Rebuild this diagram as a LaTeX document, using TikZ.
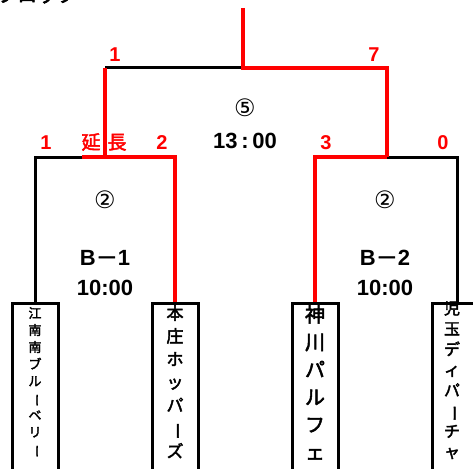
\documentclass[tikz,border=0pt]{standalone}
\usepackage{fontspec}
\setmainfont{Liberation Sans}
\newfontfamily\jp{Noto Sans CJK JP}[AutoFakeBold=2.5]
\newfontfamily\sym{DejaVu Sans}
\begin{document}
\begin{tikzpicture}[x=1pt,y=-1pt,
  bk/.style={line width=3pt,black},
  rd/.style={line width=4.5pt,red},
  score/.style={text=red,font=\fontsize{20}{20}\selectfont\bfseries,inner sep=0pt},
  lbl/.style={font=\fontsize{22}{22}\selectfont\bfseries,inner sep=0pt},
  teambox/.style={draw,line width=3pt,minimum width=46pt,minimum height=200pt,anchor=north,inner sep=0pt},
  vt/.style={anchor=north,inner sep=0pt,align=center}]
\useasboundingbox (0,0) rectangle (473,468);
% title cropped at top
\node[anchor=base west,inner sep=0pt,font=\jp\bfseries\fontsize{20}{20}\selectfont] (title) at (-3,2) {ブロック};
% team boxes
\node[teambox] (t1) at (35,302) {};
\node[teambox] (t2) at (175,302) {};
\node[teambox] (t3) at (315,302) {};
\node[teambox] (t4) at (455,302) {};
% junction coordinates
\coordinate (top) at (243,8);
\coordinate (fm) at (243,68);
\coordinate (fl) at (105,68);
\coordinate (fr) at (387,68);
\coordinate (l1) at (35,157);
\coordinate (lred) at (82,157);
\coordinate (l2) at (175,157);
\coordinate (lm) at (105,157);
\coordinate (r1) at (315,157);
\coordinate (rm) at (387,157);
\coordinate (r2) at (457,157);
% black lines
\draw[bk] (fl) -- (fm);
\draw[bk] (t1.north) |- (lred);
\draw[bk] (rm) -| (t4.north -| r2);
% red lines
\draw[rd] (top) -- (fm) -- (fr) -- (rm);
\draw[rd] (fl) -- (lm);
\draw[rd] (lred) -| (t2.north);
\draw[rd] (rm) -| (t3.north);
% scores
\node[score] (s1) at (115,55) {1};
\node[score] (s7) at (374,55) {7};
\node[score] (s1b) at (46,143) {1};
\node[score,font=\jp\bfseries\fontsize{19}{19}\selectfont] (ext) at (104,142) {延\hspace{7pt}長};
\node[score] (s2) at (162,143) {2};
\node[score] (s3) at (326,143) {3};
\node[score] (s0) at (443,143) {0};
% match labels
\node[lbl,font=\sym\fontsize{24}{24}\selectfont] (m5) at (245,108) {⑤};
\node[lbl] (t5) at (245,141) {13\,:\,00};
\node[lbl,font=\sym\fontsize{24}{24}\selectfont] (m2a) at (105,200) {②};
\node[lbl,font=\sym\fontsize{24}{24}\selectfont] (m2b) at (385,200) {②};
\node[lbl] (b1) at (105,258) {B{\jp－}1};
\node[lbl] (b1t) at (105,288) {10:00};
\node[lbl] (b2) at (385,258) {B{\jp－}2};
\node[lbl] (b2t) at (385,288) {10:00};
% team names (vertical)
\newcommand\vbar[1]{\rotatebox[origin=c]{-90}{#1}}
\node[vt,font=\jp\bfseries\fontsize{13}{17}\selectfont] (n1) at (35,307) {江\\南\\南\\ブ\\ル\\\vbar{ー}\\ベ\\リ\\\vbar{ー}};
\node[vt,font=\jp\bfseries\fontsize{17}{23}\selectfont] (n2) at (175,305) {本\\庄\\ホ\\ッ\\パ\\\vbar{ー}\\ズ};
\node[vt,font=\jp\bfseries\fontsize{20}{27.5}\selectfont] (n3) at (315,305) {神\\川\\パ\\ル\\フ\\ェ};
\node[vt,font=\jp\bfseries\fontsize{16}{20.5}\selectfont] (n4) at (452,301) {児\\玉\\デ\\ィ\\パ\\\vbar{ー}\\チ\\ャ};
\end{tikzpicture}
\end{document}
